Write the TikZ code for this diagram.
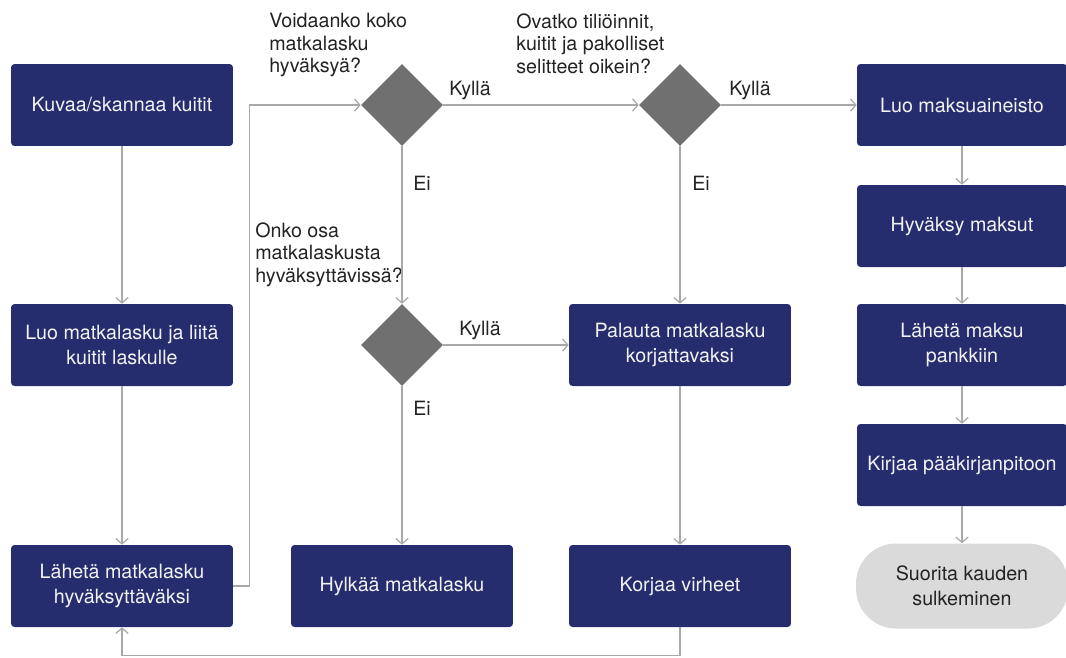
\documentclass[tikz,border=0pt]{standalone}
\usepackage{fontspec}
\setmainfont{TeX Gyre Heros}
\usetikzlibrary{shapes.geometric,arrows.meta}
\definecolor{navy}{RGB}{37,45,110}
\definecolor{decgrey}{RGB}{112,112,112}
\definecolor{linegrey}{RGB}{168,168,168}
\definecolor{endgrey}{RGB}{218,218,218}
\definecolor{qtext}{RGB}{35,35,35}

\begin{document}
\begin{tikzpicture}[x=0.02cm,y=-0.02cm,
  box/.style={fill=navy,text=white!95!black,rounded corners=2pt,minimum width=4.44cm,minimum height=1.64cm,align=center,font=\fontsize{11.2}{14}\selectfont},
  rbox/.style={box,minimum width=4.2cm},
  endbox/.style={fill=endgrey,text=qtext,rounded corners=0.8cm,minimum width=4.24cm,minimum height=1.7cm,align=center,font=\fontsize{11.2}{14}\selectfont},
  dec/.style={diamond,fill=decgrey,minimum width=1.64cm,minimum height=1.64cm,inner sep=0pt},
  quest/.style={anchor=north west,align=left,text=qtext,font=\fontsize{11.2}{12.8}\selectfont,inner sep=0pt},
  lbl/.style={text=qtext,font=\fontsize{11.2}{12}\selectfont,inner sep=0pt},
  flow/.style={draw=linegrey,line width=0.7pt,-{Straight Barb[length=3pt,width=7pt]}}]
  \useasboundingbox (0,0) rectangle (1066,657);

  \node[box] (kuvaa) at (122,105) {Kuvaa/skannaa kuitit};
  \node[box] (luo) at (122,345) {Luo matkalasku ja liitä\\kuitit laskulle};
  \node[box] (laheta) at (122,586) {Lähetä matkalasku\\hyväksyttäväksi};
  \node[box] (hylkaa) at (402,586) {Hylkää matkalasku};
  \node[box] (palauta) at (680,345) {Palauta matkalasku\\korjattavaksi};
  \node[box] (korjaa) at (680,586) {Korjaa virheet};

  \node[dec] (koko) at (402,105) {};
  \node[dec] (oikein) at (680,105) {};
  \node[dec] (osa) at (402,345) {};

  \node[quest] (qkoko) at (269,13) {Voidaanko koko\\matkalasku\\hyväksyä?};
  \node[quest] (qoikein) at (516,13) {Ovatko tiliöinnit,\\kuitit ja pakolliset\\selitteet oikein?};
  \node[quest] (qosa) at (255,222) {Onko osa\\matkalaskusta\\hyväksyttävissä?};

  \node[rbox] (aineisto) at (962,105) {Luo maksuaineisto};
  \node[rbox] (hyvaksy) at (962,226) {Hyväksy maksut};
  \node[rbox] (pankki) at (962,345) {Lähetä maksu\\pankkiin};
  \node[rbox] (kirjaa) at (962,465) {Kirjaa pääkirjanpitoon};
  \node[endbox] (sulje) at (962,586) {Suorita kauden\\sulkeminen};

  \node[lbl] (k1) at (470,90) {Kyllä};
  \node[lbl] (k2) at (750,90) {Kyllä};
  \node[lbl] (k3) at (480,330) {Kyllä};
  \node[lbl] (e1) at (422,183) {Ei};
  \node[lbl] (e2) at (701,183) {Ei};
  \node[lbl] (e3) at (422,408) {Ei};

  \draw[flow] (kuvaa) -- (luo);
  \draw[flow] (luo) -- (laheta);
  \draw[flow] (laheta.east) -- ++(16,0) |- (koko.west);
  \draw[flow] (koko.east) -- (oikein.west);
  \draw[flow] (oikein.east) -- (aineisto.west);
  \draw[flow] (koko.south) -- (osa.north);
  \draw[flow] (osa.east) -- (palauta.west);
  \draw[flow] (osa.south) -- (hylkaa.north);
  \draw[flow] (oikein.south) -- (palauta.north);
  \draw[flow] (palauta) -- (korjaa);
  \draw[flow] (korjaa.south) -- ++(0,28) -| (laheta.south);
  \draw[flow] (aineisto) -- (hyvaksy);
  \draw[flow] (hyvaksy) -- (pankki);
  \draw[flow] (pankki) -- (kirjaa);
  \draw[flow] (kirjaa) -- (sulje);
\end{tikzpicture}
\end{document}
